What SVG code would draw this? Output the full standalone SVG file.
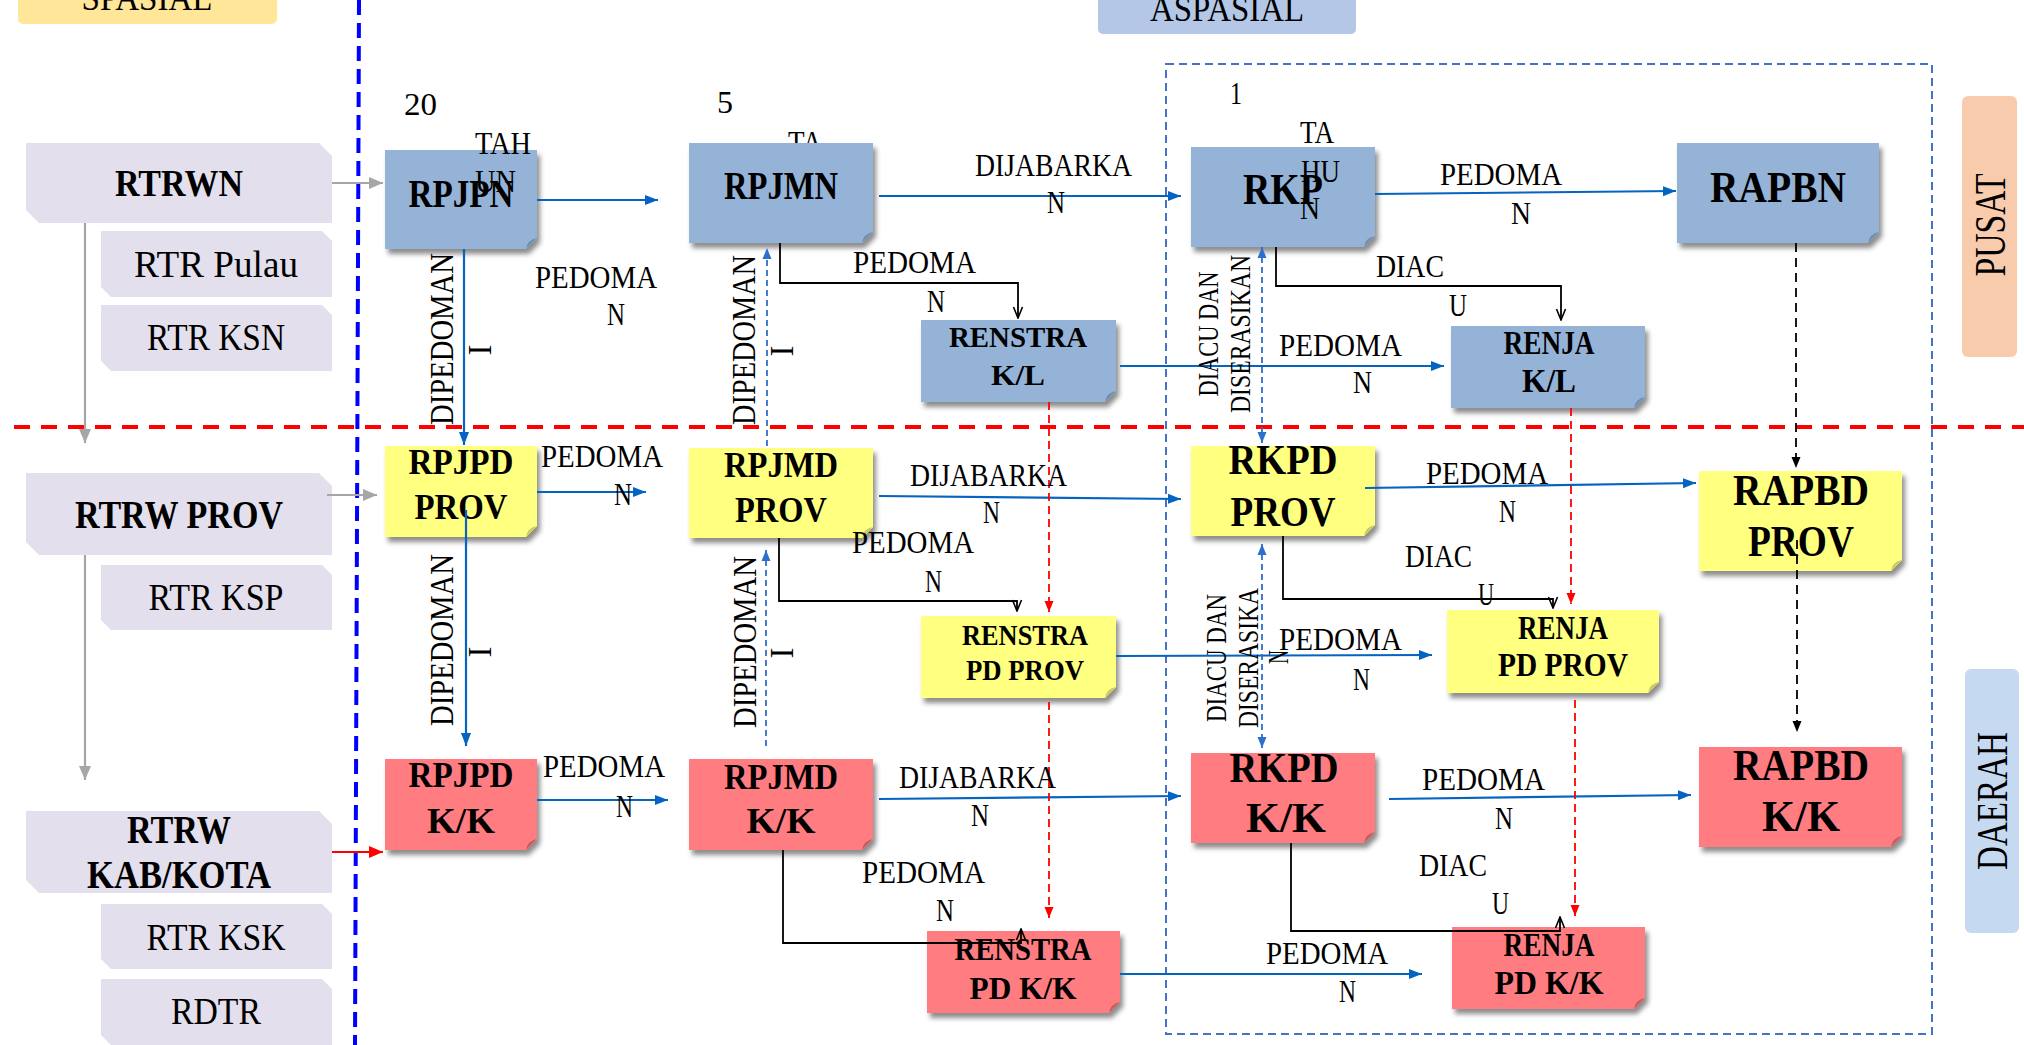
<svg xmlns="http://www.w3.org/2000/svg" width="2024" height="1045" viewBox="0 0 2024 1045">
<style>
text{font-family:"Liberation Serif","Times New Roman",serif;fill:#000}
.r{font-size:32px}
.c{text-anchor:middle}
.b{font-weight:bold;text-anchor:middle}
.lav{fill:#e3dfec}
.blu{fill:#95b3d7}
.yel{fill:#ffff80}
.red{fill:#ff7c80}
.fb{fill:#6f8db5}
.fy{fill:#c9c95e}
.fr{fill:#c95a5e}
.sh{filter:url(#ds)}
.cb{stroke:#0563c1;stroke-width:2.2;fill:none}
.cbd{stroke:#2f6fcc;stroke-width:1.8;fill:none;stroke-dasharray:6 4}
.ck{stroke:#000;stroke-width:1.8;fill:none}
.ckd{stroke:#000;stroke-width:1.8;fill:none;stroke-dasharray:9 6}
.crd{stroke:#ff0000;stroke-width:1.8;fill:none;stroke-dasharray:8 5}
.cg{stroke:#a6a6a6;stroke-width:2.2;fill:none}
</style>
<defs>
<filter id="ds" x="-10%" y="-10%" width="130%" height="140%">
<feDropShadow dx="3" dy="5" stdDeviation="2.5" flood-color="#000" flood-opacity="0.45"/>
</filter>
<marker id="ab" markerUnits="userSpaceOnUse" markerWidth="14" markerHeight="12" refX="13" refY="6" orient="auto-start-reverse"><path d="M0,1 L13,6 L0,11 z" fill="#0563c1"/></marker>
<marker id="abd" markerUnits="userSpaceOnUse" markerWidth="12" markerHeight="12" refX="11" refY="5" orient="auto-start-reverse"><path d="M0,0.5 L11,5 L0,9.5 z" fill="#2f6fcc"/></marker>
<marker id="ag" markerUnits="userSpaceOnUse" markerWidth="15" markerHeight="14" refX="14" refY="7" orient="auto"><path d="M0,1 L14,7 L0,13 z" fill="#a6a6a6"/></marker>
<marker id="ar" markerUnits="userSpaceOnUse" markerWidth="15" markerHeight="14" refX="14" refY="7" orient="auto"><path d="M0,1 L14,7 L0,13 z" fill="#ff0000"/></marker>
<marker id="ard" markerUnits="userSpaceOnUse" markerWidth="12" markerHeight="12" refX="11" refY="5" orient="auto"><path d="M0,0.5 L11,5 L0,9.5 z" fill="#ff0000"/></marker>
<marker id="akd" markerUnits="userSpaceOnUse" markerWidth="12" markerHeight="12" refX="11" refY="5" orient="auto"><path d="M0,0.5 L11,5 L0,9.5 z" fill="#000"/></marker>
<marker id="ak" markerUnits="userSpaceOnUse" markerWidth="13" markerHeight="12" refX="12" refY="6" orient="auto"><path d="M1,1.5 L12,6 L1,10.5" fill="none" stroke="#000" stroke-width="1.6"/></marker>
</defs>

<rect x="0" y="0" width="2024" height="1045" fill="#fff"/>

<!-- headers -->
<g id="hdr-spasial"><rect x="18" y="-10" width="259" height="34" rx="5" fill="#ffe699"/><text class="c" x="147" y="10" font-size="36" textLength="131" lengthAdjust="spacingAndGlyphs">SPASIAL</text></g>
<g id="hdr-aspasial"><rect x="1098" y="-10" width="258" height="44" rx="5" fill="#b4c7e7"/><text class="c" x="1227" y="21" font-size="36" textLength="154" lengthAdjust="spacingAndGlyphs">ASPASIAL</text></g>
<g id="hdr-pusat"><rect x="1962" y="96" width="55" height="261" rx="6" fill="#f8cbad"/><text class="c" font-size="44" transform="translate(2005,225) rotate(-90)" textLength="103" lengthAdjust="spacingAndGlyphs">PUSAT</text></g>
<g id="hdr-daerah"><rect x="1965" y="669" width="54" height="264" rx="6" fill="#c5d9f1"/><text class="c" font-size="44" transform="translate(2007,801) rotate(-90)" textLength="138" lengthAdjust="spacingAndGlyphs">DAERAH</text></g>

<!-- dividers -->
<g id="dividers">
<line x1="359" y1="0" x2="355" y2="1045" stroke="#0000ff" stroke-width="4" stroke-dasharray="15 8"/>
<line x1="14" y1="427" x2="2024" y2="427" stroke="#ff0000" stroke-width="4" stroke-dasharray="16 11"/>
<rect x="1166" y="64" width="766" height="970" fill="none" stroke="#4472c4" stroke-width="2" stroke-dasharray="8 5"/>
</g>

<!-- label partly hidden behind RPJMN -->
<text class="r" x="788" y="153" textLength="34" lengthAdjust="spacingAndGlyphs">TA</text>

<!-- spatial nodes -->
<g id="n-rtrwn"><path class="lav" d="M26,143 H319 L332,156 V223 H39 L26,210 Z"/><text class="b" x="179" y="196" font-size="38" textLength="128" lengthAdjust="spacingAndGlyphs">RTRWN</text></g>
<g id="n-rtr-pulau"><path class="lav" d="M101,231 H322 L332,241 V297 H111 L101,287 Z"/><text class="c" x="216" y="277" font-size="38" textLength="164" lengthAdjust="spacingAndGlyphs">RTR Pulau</text></g>
<g id="n-rtr-ksn"><path class="lav" d="M101,305 H322 L332,315 V371 H111 L101,361 Z"/><text class="c" x="216" y="350" font-size="38" textLength="138" lengthAdjust="spacingAndGlyphs">RTR KSN</text></g>
<g id="n-rtrw-prov"><path class="lav" d="M26,473 H319 L332,486 V555 H39 L26,542 Z"/><text class="b" x="179" y="528" font-size="39" textLength="208" lengthAdjust="spacingAndGlyphs">RTRW PROV</text></g>
<g id="n-rtr-ksp"><path class="lav" d="M101,565 H322 L332,575 V630 H111 L101,620 Z"/><text class="c" x="216" y="610" font-size="38" textLength="135" lengthAdjust="spacingAndGlyphs">RTR KSP</text></g>
<g id="n-rtrw-kk"><path class="lav" d="M26,811 H319 L332,824 V893 H39 L26,880 Z"/><text class="b" x="179" y="843" font-size="39" textLength="104" lengthAdjust="spacingAndGlyphs">RTRW</text><text class="b" x="179" y="888" font-size="39" textLength="184" lengthAdjust="spacingAndGlyphs">KAB/KOTA</text></g>
<g id="n-rtr-ksk"><path class="lav" d="M101,904 H322 L332,914 V969 H111 L101,959 Z"/><text class="c" x="216" y="950" font-size="38" textLength="139" lengthAdjust="spacingAndGlyphs">RTR KSK</text></g>
<g id="n-rdtr"><path class="lav" d="M101,979 H322 L332,989 V1045 H111 L101,1035 Z"/><text class="c" x="216" y="1024" font-size="38" textLength="90" lengthAdjust="spacingAndGlyphs">RDTR</text></g>

<!-- aspatial nodes -->
<g id="n-rpjpn"><path class="blu sh" d="M385,150 H537 V238 L526,249 H385 Z"/><path class="fb" d="M537,238 L526,249 Q527.6,239.6 537,238 Z"/><text class="b" x="461" y="207" font-size="40" textLength="105" lengthAdjust="spacingAndGlyphs">RPJPN</text></g>
<g id="n-rpjmn"><path class="blu sh" d="M689,143 H873 V232 L862,243 H689 Z"/><path class="fb" d="M873,232 L862,243 Q863.6,233.6 873,232 Z"/><text class="b" x="781" y="199" font-size="40" textLength="114" lengthAdjust="spacingAndGlyphs">RPJMN</text></g>
<g id="n-rkp"><path class="blu sh" d="M1191,147 H1375 V236 L1364,247 H1191 Z"/><path class="fb" d="M1375,236 L1364,247 Q1365.6,237.6 1375,236 Z"/><text class="b" x="1283" y="204" font-size="45" textLength="80" lengthAdjust="spacingAndGlyphs">RKP</text></g>
<g id="n-rapbn"><path class="blu sh" d="M1677,143 H1879 V232 L1868,243 H1677 Z"/><path class="fb" d="M1879,232 L1868,243 Q1869.6,233.6 1879,232 Z"/><text class="b" x="1778" y="202" font-size="45" textLength="136" lengthAdjust="spacingAndGlyphs">RAPBN</text></g>
<g id="n-renstra-kl"><path class="blu sh" d="M921,320 H1116 V391 L1105,402 H921 Z"/><path class="fb" d="M1116,391 L1105,402 Q1106.6,392.6 1116,391 Z"/><text class="b" x="1018" y="347" font-size="30" textLength="138" lengthAdjust="spacingAndGlyphs">RENSTRA</text><text class="b" x="1018" y="385" font-size="30" textLength="54" lengthAdjust="spacingAndGlyphs">K/L</text></g>
<g id="n-renja-kl"><path class="blu sh" d="M1451,326 H1645 V397 L1634,408 H1451 Z"/><path class="fb" d="M1645,397 L1634,408 Q1635.6,398.6 1645,397 Z"/><text class="b" x="1549" y="354" font-size="33" textLength="91" lengthAdjust="spacingAndGlyphs">RENJA</text><text class="b" x="1549" y="392" font-size="33" textLength="54" lengthAdjust="spacingAndGlyphs">K/L</text></g>

<g id="n-rpjpd-prov"><path class="yel sh" d="M385,446 H537 V526 L526,537 H385 Z"/><path class="fy" d="M537,526 L526,537 Q527.6,527.6 537,526 Z"/><text class="b" x="461" y="474" font-size="36" textLength="105" lengthAdjust="spacingAndGlyphs">RPJPD</text><text class="b" x="461" y="519" font-size="36" textLength="93" lengthAdjust="spacingAndGlyphs">PROV</text></g>
<g id="n-rpjmd-prov"><path class="yel sh" d="M689,448 H873 V527 L862,538 H689 Z"/><path class="fy" d="M873,527 L862,538 Q863.6,528.6 873,527 Z"/><text class="b" x="781" y="477" font-size="36" textLength="114" lengthAdjust="spacingAndGlyphs">RPJMD</text><text class="b" x="781" y="522" font-size="36" textLength="92" lengthAdjust="spacingAndGlyphs">PROV</text></g>
<g id="n-rkpd-prov"><path class="yel sh" d="M1191,446 H1375 V525 L1364,536 H1191 Z"/><path class="fy" d="M1375,525 L1364,536 Q1365.6,526.6 1375,525 Z"/><text class="b" x="1283" y="474" font-size="43" textLength="109" lengthAdjust="spacingAndGlyphs">RKPD</text><text class="b" x="1283" y="526" font-size="43" textLength="105" lengthAdjust="spacingAndGlyphs">PROV</text></g>
<g id="n-rapbd-prov"><path class="yel sh" d="M1699,471 H1902 V560 L1891,571 H1699 Z"/><path class="fy" d="M1902,560 L1891,571 Q1892.6,561.6 1902,560 Z"/><text class="b" x="1801" y="505" font-size="45" textLength="136" lengthAdjust="spacingAndGlyphs">RAPBD</text><text class="b" x="1801" y="556" font-size="45" textLength="106" lengthAdjust="spacingAndGlyphs">PROV</text></g>
<g id="n-renstra-prov"><path class="yel sh" d="M921,616 H1116 V687 L1105,698 H921 Z"/><path class="fy" d="M1116,687 L1105,698 Q1106.6,688.6 1116,687 Z"/><text class="b" x="1025" y="645" font-size="30" textLength="126" lengthAdjust="spacingAndGlyphs">RENSTRA</text><text class="b" x="1025" y="680" font-size="30" textLength="118" lengthAdjust="spacingAndGlyphs">PD PROV</text></g>
<g id="n-renja-prov"><path class="yel sh" d="M1447,610 H1659 V682 L1648,693 H1447 Z"/><path class="fy" d="M1659,682 L1648,693 Q1649.6,683.6 1659,682 Z"/><text class="b" x="1563" y="639" font-size="33" textLength="90" lengthAdjust="spacingAndGlyphs">RENJA</text><text class="b" x="1563" y="676" font-size="33" textLength="130" lengthAdjust="spacingAndGlyphs">PD PROV</text></g>

<g id="n-rpjpd-kk"><path class="red sh" d="M385,759 H537 V839 L526,850 H385 Z"/><path class="fr" d="M537,839 L526,850 Q527.6,840.6 537,839 Z"/><text class="b" x="461" y="787" font-size="36" textLength="105" lengthAdjust="spacingAndGlyphs">RPJPD</text><text class="b" x="461" y="833" font-size="36" textLength="68" lengthAdjust="spacingAndGlyphs">K/K</text></g>
<g id="n-rpjmd-kk"><path class="red sh" d="M689,759 H873 V839 L862,850 H689 Z"/><path class="fr" d="M873,839 L862,850 Q863.6,840.6 873,839 Z"/><text class="b" x="781" y="789" font-size="36" textLength="114" lengthAdjust="spacingAndGlyphs">RPJMD</text><text class="b" x="781" y="833" font-size="36" textLength="69" lengthAdjust="spacingAndGlyphs">K/K</text></g>
<g id="n-rkpd-kk"><path class="red sh" d="M1191,753 H1375 V832 L1364,843 H1191 Z"/><path class="fr" d="M1375,832 L1364,843 Q1365.6,833.6 1375,832 Z"/><text class="b" x="1284" y="782" font-size="43" textLength="109" lengthAdjust="spacingAndGlyphs">RKPD</text><text class="b" x="1286" y="832" font-size="43" textLength="80" lengthAdjust="spacingAndGlyphs">K/K</text></g>
<g id="n-rapbd-kk"><path class="red sh" d="M1699,747 H1902 V836 L1891,847 H1699 Z"/><path class="fr" d="M1902,836 L1891,847 Q1892.6,837.6 1902,836 Z"/><text class="b" x="1801" y="780" font-size="45" textLength="136" lengthAdjust="spacingAndGlyphs">RAPBD</text><text class="b" x="1801" y="831" font-size="45" textLength="78" lengthAdjust="spacingAndGlyphs">K/K</text></g>
<g id="n-renstra-kk"><path class="red sh" d="M927,931 H1120 V1002 L1109,1013 H927 Z"/><path class="fr" d="M1120,1002 L1109,1013 Q1110.6,1003.6 1120,1002 Z"/><text class="b" x="1023" y="960" font-size="31" textLength="137" lengthAdjust="spacingAndGlyphs">RENSTRA</text><text class="b" x="1023" y="999" font-size="31" textLength="107" lengthAdjust="spacingAndGlyphs">PD K/K</text></g>
<g id="n-renja-kk"><path class="red sh" d="M1452,927 H1645 V998 L1634,1009 H1452 Z"/><path class="fr" d="M1645,998 L1634,1009 Q1635.6,999.6 1645,998 Z"/><text class="b" x="1549" y="956" font-size="33" textLength="91" lengthAdjust="spacingAndGlyphs">RENJA</text><text class="b" x="1549" y="994" font-size="33" textLength="109" lengthAdjust="spacingAndGlyphs">PD K/K</text></g>

<!-- connectors -->
<g id="connectors">
<line class="cg" x1="332" y1="183" x2="383" y2="183" marker-end="url(#ag)"/>
<line class="cg" x1="327" y1="495" x2="377" y2="495" marker-end="url(#ag)"/>
<line class="cg" x1="85" y1="223" x2="85" y2="443" marker-end="url(#ag)"/>
<line class="cg" x1="85" y1="555" x2="85" y2="780" marker-end="url(#ag)"/>
<line x1="332" y1="852" x2="383" y2="852" stroke="#ff0000" stroke-width="2.2" marker-end="url(#ar)"/>

<line class="cb" x1="537" y1="200" x2="658" y2="200" marker-end="url(#ab)"/>
<line class="cb" x1="879" y1="196" x2="1181" y2="196" marker-end="url(#ab)"/>
<line class="cb" x1="1375" y1="194" x2="1676" y2="191" marker-end="url(#ab)"/>
<line class="cb" x1="1120" y1="366" x2="1444" y2="366" marker-end="url(#ab)"/>
<line class="cb" x1="464" y1="249" x2="464" y2="445" marker-end="url(#ab)"/>
<line class="cb" x1="537" y1="492" x2="646" y2="492" marker-end="url(#ab)"/>
<line class="cb" x1="879" y1="496" x2="1181" y2="499" marker-end="url(#ab)"/>
<line class="cb" x1="1365" y1="488" x2="1696" y2="483" marker-end="url(#ab)"/>
<line class="cb" x1="1116" y1="656" x2="1432" y2="655" marker-end="url(#ab)"/>
<line class="cb" x1="466" y1="510" x2="466" y2="746" marker-end="url(#ab)"/>
<line class="cb" x1="537" y1="800" x2="668" y2="800" marker-end="url(#ab)"/>
<line class="cb" x1="879" y1="799" x2="1181" y2="796" marker-end="url(#ab)"/>
<line class="cb" x1="1389" y1="799" x2="1691" y2="795" marker-end="url(#ab)"/>
<line class="cb" x1="1120" y1="974" x2="1422" y2="974" marker-end="url(#ab)"/>

<line class="cbd" x1="767" y1="446" x2="767" y2="248" marker-end="url(#abd)"/>
<line class="cbd" x1="766" y1="746" x2="766" y2="550" marker-end="url(#abd)"/>
<line class="cbd" x1="1262" y1="247" x2="1262" y2="443" marker-start="url(#abd)" marker-end="url(#abd)"/>
<line class="cbd" x1="1262" y1="544" x2="1262" y2="748" marker-start="url(#abd)" marker-end="url(#abd)"/>

<path class="ck" d="M780,243 V283 H1018 V318" marker-end="url(#ak)"/>
<path class="ck" d="M1276,247 V286 H1561 V320" marker-end="url(#ak)"/>
<path class="ck" d="M779,538 V601 H1017 V611" marker-end="url(#ak)"/>
<path class="ck" d="M1283,536 V599 H1553 V608" marker-end="url(#ak)"/>
<path class="ck" d="M783,850 V943 H1021 V929" marker-end="url(#ak)"/>
<path class="ck" d="M1291,843 V931 H1560 V917" marker-end="url(#ak)"/>

<line class="ckd" x1="1796" y1="243" x2="1796" y2="468" marker-end="url(#akd)"/>
<line class="ckd" x1="1797" y1="540" x2="1797" y2="732" marker-end="url(#akd)"/>

<line class="crd" x1="1049" y1="402" x2="1049" y2="612" marker-end="url(#ard)"/>
<line class="crd" x1="1049" y1="702" x2="1049" y2="918" marker-end="url(#ard)"/>
<line class="crd" x1="1571" y1="408" x2="1571" y2="604" marker-end="url(#ard)"/>
<line class="crd" x1="1575" y1="700" x2="1575" y2="916" marker-end="url(#ard)"/>
</g>

<!-- labels -->
<g id="labels">
<text class="r" x="404" y="115" textLength="33" lengthAdjust="spacingAndGlyphs">20</text>
<text class="r" x="475" y="154" textLength="56" lengthAdjust="spacingAndGlyphs">TAH</text>
<text class="r" x="475" y="192" textLength="41" lengthAdjust="spacingAndGlyphs">UN</text>
<text class="r" x="717" y="113" textLength="16" lengthAdjust="spacingAndGlyphs">5</text>
<text class="r" x="1230" y="104" textLength="12" lengthAdjust="spacingAndGlyphs">1</text>
<text class="r" x="1300" y="143" textLength="34" lengthAdjust="spacingAndGlyphs">TA</text>
<text class="r" x="1301" y="182" textLength="39" lengthAdjust="spacingAndGlyphs">HU</text>
<text class="r" x="1300" y="219" textLength="20" lengthAdjust="spacingAndGlyphs">N</text>

<text class="r" x="535" y="288" textLength="122" lengthAdjust="spacingAndGlyphs">PEDOMA</text>
<text class="r" x="607" y="325" textLength="18" lengthAdjust="spacingAndGlyphs">N</text>
<text class="r" x="975" y="176" textLength="157" lengthAdjust="spacingAndGlyphs">DIJABARKA</text>
<text class="r" x="1047" y="213" textLength="18" lengthAdjust="spacingAndGlyphs">N</text>
<text class="r" x="853" y="273" textLength="123" lengthAdjust="spacingAndGlyphs">PEDOMA</text>
<text class="r" x="927" y="312" textLength="18" lengthAdjust="spacingAndGlyphs">N</text>
<text class="r" x="1440" y="185" textLength="122" lengthAdjust="spacingAndGlyphs">PEDOMA</text>
<text class="r" x="1511" y="224" textLength="20" lengthAdjust="spacingAndGlyphs">N</text>
<text class="r" x="1376" y="277" textLength="68" lengthAdjust="spacingAndGlyphs">DIAC</text>
<text class="r" x="1449" y="316" textLength="18" lengthAdjust="spacingAndGlyphs">U</text>
<text class="r" x="1279" y="356" textLength="123" lengthAdjust="spacingAndGlyphs">PEDOMA</text>
<text class="r" x="1353" y="393" textLength="19" lengthAdjust="spacingAndGlyphs">N</text>

<text class="r" x="541" y="467" textLength="122" lengthAdjust="spacingAndGlyphs">PEDOMA</text>
<text class="r" x="614" y="505" textLength="18" lengthAdjust="spacingAndGlyphs">N</text>
<text class="r" x="910" y="486" textLength="157" lengthAdjust="spacingAndGlyphs">DIJABARKA</text>
<text class="r" x="983" y="523" textLength="17" lengthAdjust="spacingAndGlyphs">N</text>
<text class="r" x="852" y="553" textLength="122" lengthAdjust="spacingAndGlyphs">PEDOMA</text>
<text class="r" x="925" y="592" textLength="17" lengthAdjust="spacingAndGlyphs">N</text>
<text class="r" x="1426" y="484" textLength="122" lengthAdjust="spacingAndGlyphs">PEDOMA</text>
<text class="r" x="1499" y="522" textLength="17" lengthAdjust="spacingAndGlyphs">N</text>
<text class="r" x="1405" y="567" textLength="67" lengthAdjust="spacingAndGlyphs">DIAC</text>
<text class="r" x="1478" y="605" textLength="16" lengthAdjust="spacingAndGlyphs">U</text>
<text class="r" x="1279" y="650" textLength="123" lengthAdjust="spacingAndGlyphs">PEDOMA</text>
<text class="r" x="1353" y="690" textLength="17" lengthAdjust="spacingAndGlyphs">N</text>

<text class="r" x="543" y="777" textLength="122" lengthAdjust="spacingAndGlyphs">PEDOMA</text>
<text class="r" x="616" y="817" textLength="17" lengthAdjust="spacingAndGlyphs">N</text>
<text class="r" x="899" y="788" textLength="157" lengthAdjust="spacingAndGlyphs">DIJABARKA</text>
<text class="r" x="971" y="826" textLength="18" lengthAdjust="spacingAndGlyphs">N</text>
<text class="r" x="862" y="883" textLength="123" lengthAdjust="spacingAndGlyphs">PEDOMA</text>
<text class="r" x="936" y="921" textLength="18" lengthAdjust="spacingAndGlyphs">N</text>
<text class="r" x="1422" y="790" textLength="123" lengthAdjust="spacingAndGlyphs">PEDOMA</text>
<text class="r" x="1495" y="829" textLength="18" lengthAdjust="spacingAndGlyphs">N</text>
<text class="r" x="1419" y="876" textLength="68" lengthAdjust="spacingAndGlyphs">DIAC</text>
<text class="r" x="1492" y="914" textLength="17" lengthAdjust="spacingAndGlyphs">U</text>
<text class="r" x="1266" y="964" textLength="122" lengthAdjust="spacingAndGlyphs">PEDOMA</text>
<text class="r" x="1339" y="1002" textLength="17" lengthAdjust="spacingAndGlyphs">N</text>

<text class="c" font-size="33" transform="translate(453,339) rotate(-90)" textLength="172" lengthAdjust="spacingAndGlyphs">DIPEDOMAN</text>
<text class="c" font-size="33" transform="translate(491,350) rotate(-90)">I</text>
<text class="c" font-size="33" transform="translate(755,340) rotate(-90)" textLength="170" lengthAdjust="spacingAndGlyphs">DIPEDOMAN</text>
<text class="c" font-size="33" transform="translate(793,351) rotate(-90)">I</text>
<text class="c" font-size="33" transform="translate(453,640) rotate(-90)" textLength="172" lengthAdjust="spacingAndGlyphs">DIPEDOMAN</text>
<text class="c" font-size="33" transform="translate(491,652) rotate(-90)">I</text>
<text class="c" font-size="33" transform="translate(756,642) rotate(-90)" textLength="172" lengthAdjust="spacingAndGlyphs">DIPEDOMAN</text>
<text class="c" font-size="33" transform="translate(793,653) rotate(-90)">I</text>

<text class="c" font-size="29" transform="translate(1218,334) rotate(-90)" textLength="125" lengthAdjust="spacingAndGlyphs">DIACU DAN</text>
<text class="c" font-size="29" transform="translate(1250,334) rotate(-90)" textLength="158" lengthAdjust="spacingAndGlyphs">DISERASIKAN</text>
<text class="c" font-size="29" transform="translate(1226,658) rotate(-90)" textLength="128" lengthAdjust="spacingAndGlyphs">DIACU DAN</text>
<text class="c" font-size="29" transform="translate(1258,658) rotate(-90)" textLength="140" lengthAdjust="spacingAndGlyphs">DISERASIKA</text>
<text class="c" font-size="29" transform="translate(1288,657) rotate(-90)" textLength="14" lengthAdjust="spacingAndGlyphs">N</text>
</g>
</svg>
